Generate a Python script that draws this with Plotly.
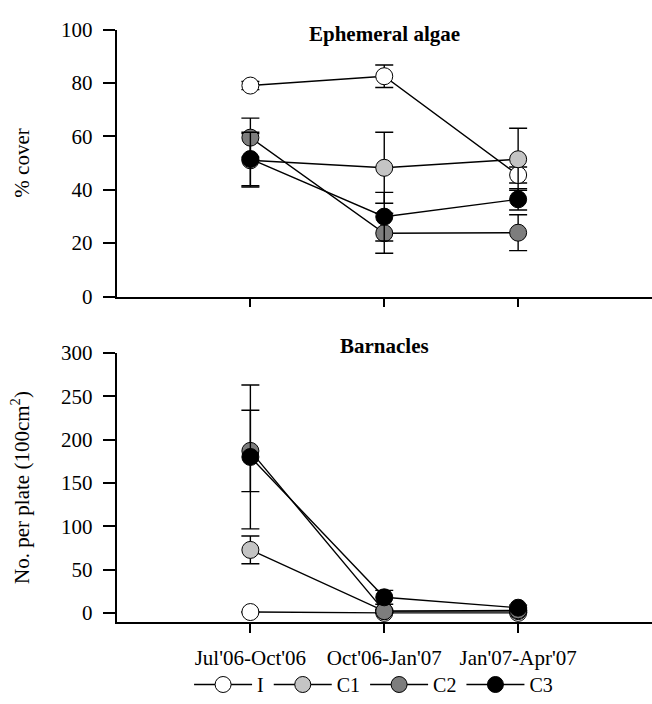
import plotly.graph_objects as go

categories = ["Jul'06-Oct'06", "Oct'06-Jan'07", "Jan'07-Apr'07"]
groups = ["I", "C1", "C2", "C3"]
colors = {"I": "#ffffff", "C1": "#c4c4c4", "C2": "#7d7d7d", "C3": "#000000"}

algae_mean = {
    "I": [79, 82.5, 45.5],
    "C1": [51, 48.2, 51.4],
    "C2": [59.5, 23.7, 23.9],
    "C3": [51.5, 29.9, 36.4],
}
algae_se = {
    "I": [1.5, 4.2, 3],
    "C1": [10, 13.3, 11.6],
    "C2": [7.3, 7.5, 6.7],
    "C3": [10, 9.1, 4],
}
barn_mean = {
    "I": [1, 0, 0],
    "C1": [72.7, 2, 2],
    "C2": [187, 2, 3],
    "C3": [180, 18, 6],
}
barn_se = {
    "I": [0.5, 0.3, 0.3],
    "C1": [16, 1, 1],
    "C2": [47, 2, 2],
    "C3": [83, 8, 3],
}

FONT = "Liberation Serif"
xidx = list(range(len(categories)))

fig = go.Figure()
for g in groups:
    for mean, se, xa, ya, show in [
        (algae_mean, algae_se, "x", "y", True),
        (barn_mean, barn_se, "x2", "y2", False),
    ]:
        fig.add_trace(go.Scatter(
            x=xidx, y=mean[g], xaxis=xa, yaxis=ya,
            mode="lines+markers", name=g, legendgroup=g, showlegend=show,
            line=dict(color="black", width=1.4),
            marker=dict(size=17, color=colors[g], line=dict(color="black", width=1)),
            error_y=dict(type="data", array=se[g], visible=True,
                         color="black", thickness=1.4, width=9),
        ))

H, W = 704, 652
def ydom(top_px, bot_px):
    return [1 - bot_px / H, 1 - top_px / H]

x_left = 116.5 / W
common_x = dict(range=[-1, 3], domain=[x_left, 1], showline=True, linecolor="black",
                linewidth=1.5, ticks="outside", ticklen=9, tickcolor="black",
                tickwidth=1.5, tickvals=xidx, ticktext=categories, showgrid=False,
                zeroline=False, automargin=False,
                tickfont=dict(family=FONT, size=21, color="black"))
common_y = dict(showline=True, linecolor="black", linewidth=1.5, ticks="outside",
                ticklen=12, tickcolor="black", tickwidth=1.5, showgrid=False,
                zeroline=False, automargin=False, ticklabelstandoff=6,
                tickfont=dict(family=FONT, size=21, color="black"))

fig.update_layout(
    width=W, height=H, margin=dict(l=0, r=0, t=0, b=0),
    paper_bgcolor="white", plot_bgcolor="white",
    font=dict(family=FONT, size=21, color="black"),
    xaxis=dict(common_x, anchor="y", showticklabels=False),
    yaxis=dict(common_y, anchor="x", domain=ydom(29.5, 296.5), range=[0, 100],
               tickvals=[0, 20, 40, 60, 80, 100],
               title=dict(text="% cover", font=dict(family=FONT, size=21), standoff=26)),
    xaxis2=dict(common_x, anchor="y2", ticklabelstandoff=7),
    yaxis2=dict(common_y, anchor="x2", domain=ydom(353, 622), range=[-10.5, 300],
                tickvals=[0, 50, 100, 150, 200, 250, 300],
                title=dict(text="No. per plate (100cm<sup>2</sup>)",
                           font=dict(family=FONT, size=21), standoff=26)),
    legend=dict(orientation="h", x=0.29, xanchor="left", y=0, yanchor="bottom",
                font=dict(family=FONT, size=20, color="black"), itemwidth=58,
                bgcolor="rgba(0,0,0,0)"),
    showlegend=True,
    annotations=[
        dict(text="<b>Ephemeral algae</b>", x=1, xref="x", y=1 - 20 / H, yref="paper",
             showarrow=False, font=dict(family=FONT, size=21, color="black")),
        dict(text="<b>Barnacles</b>", x=1, xref="x2", y=1 - 346 / H, yref="paper",
             showarrow=False, font=dict(family=FONT, size=21, color="black")),
    ],
)

fig.write_html("out.html")
